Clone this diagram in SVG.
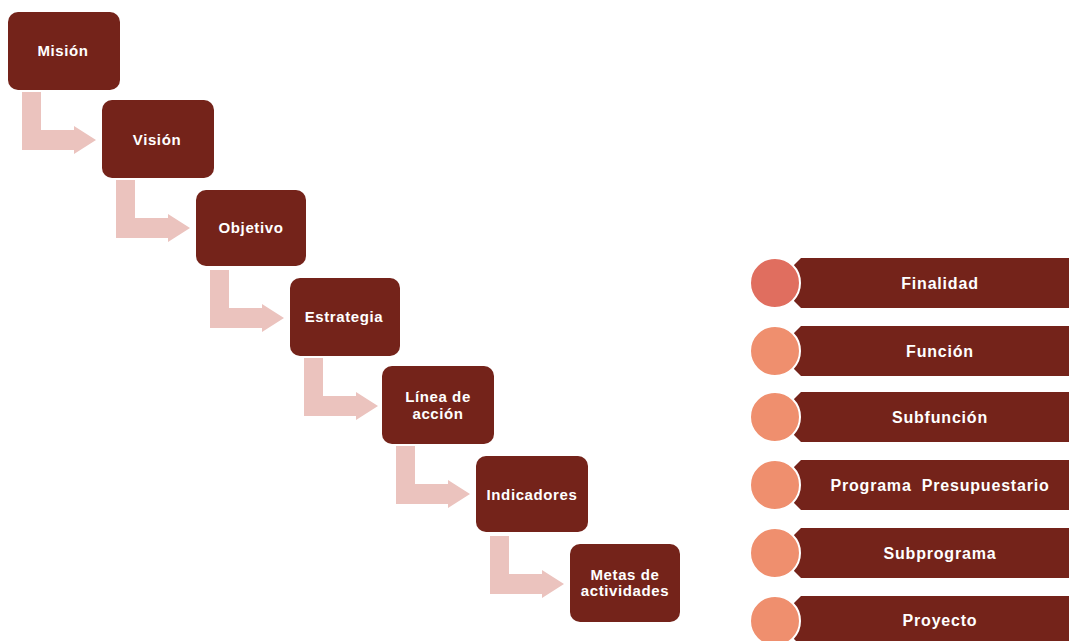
<svg xmlns="http://www.w3.org/2000/svg" width="1069" height="641" viewBox="0 0 1069 641">
<defs>
<style>
.box{fill:#74231A}
.arr{fill:#EBC3BE}
.t{font-family:"Liberation Sans",Arial,sans-serif;font-weight:bold;fill:#FFFFFF;text-anchor:middle}
.lt{font-size:15px;letter-spacing:0.6px}
.rt{font-size:16px;letter-spacing:0.8px}
.c1{fill:#E06E5F;stroke:#FFFFFF;stroke-width:2}
.c2{fill:#EF8F6E;stroke:#FFFFFF;stroke-width:2}
</style>
<path id="bent" d="M14,80 H33 V118 H66 V114 L88,128 L66,142 V138 H14 Z"/>
<polygon id="bar" points="10,0 280,0 280,50 10,50 0,40 0,10"/>
</defs>
<rect width="1069" height="641" fill="#FFFFFF"/>
<g id="connectors">
<use href="#bent" class="arr" x="8" y="12"/>
<use href="#bent" class="arr" x="102" y="100"/>
<use href="#bent" class="arr" x="196" y="190"/>
<use href="#bent" class="arr" x="290" y="278"/>
<use href="#bent" class="arr" x="382" y="366"/>
<use href="#bent" class="arr" x="476" y="456"/>
</g>
<g id="mision"><rect class="box" x="8" y="12" width="112" height="78" rx="10"/><text class="t lt" x="63" y="56">Misión</text></g>
<g id="vision"><rect class="box" x="102" y="100" width="112" height="78" rx="10"/><text class="t lt" x="157" y="145">Visión</text></g>
<g id="objetivo"><rect class="box" x="196" y="190" width="110" height="76" rx="10"/><text class="t lt" x="251" y="233">Objetivo</text></g>
<g id="estrategia"><rect class="box" x="290" y="278" width="110" height="78" rx="10"/><text class="t lt" x="344" y="322">Estrategia</text></g>
<g id="linea"><rect class="box" x="382" y="366" width="112" height="78" rx="10"/><text class="t lt" x="438" y="402">Línea de</text><text class="t lt" x="438" y="419">acción</text></g>
<g id="indicadores"><rect class="box" x="476" y="456" width="112" height="76" rx="10"/><text class="t lt" x="532" y="500">Indicadores</text></g>
<g id="metas"><rect class="box" x="570" y="544" width="110" height="78" rx="10"/><text class="t lt" x="625" y="580">Metas de</text><text class="t lt" x="625" y="596">actividades</text></g>
<g id="finalidad"><use href="#bar" class="box" x="791" y="258"/><circle class="c1" cx="775" cy="283" r="25"/><text class="t rt" x="940" y="289">Finalidad</text></g>
<g id="funcion"><use href="#bar" class="box" x="791" y="326"/><circle class="c2" cx="775" cy="351" r="25"/><text class="t rt" x="940" y="357">Función</text></g>
<g id="subfuncion"><use href="#bar" class="box" x="791" y="392"/><circle class="c2" cx="775" cy="417" r="25"/><text class="t rt" x="940" y="423">Subfunción</text></g>
<g id="programa"><use href="#bar" class="box" x="791" y="460"/><circle class="c2" cx="775" cy="485" r="25"/><text class="t rt" x="940" y="491" word-spacing="5">Programa Presupuestario</text></g>
<g id="subprograma"><use href="#bar" class="box" x="791" y="528"/><circle class="c2" cx="775" cy="553" r="25"/><text class="t rt" x="940" y="559">Subprograma</text></g>
<g id="proyecto"><use href="#bar" class="box" x="791" y="596"/><circle class="c2" cx="775" cy="621" r="25"/><text class="t rt" x="940" y="626">Proyecto</text></g>
</svg>
